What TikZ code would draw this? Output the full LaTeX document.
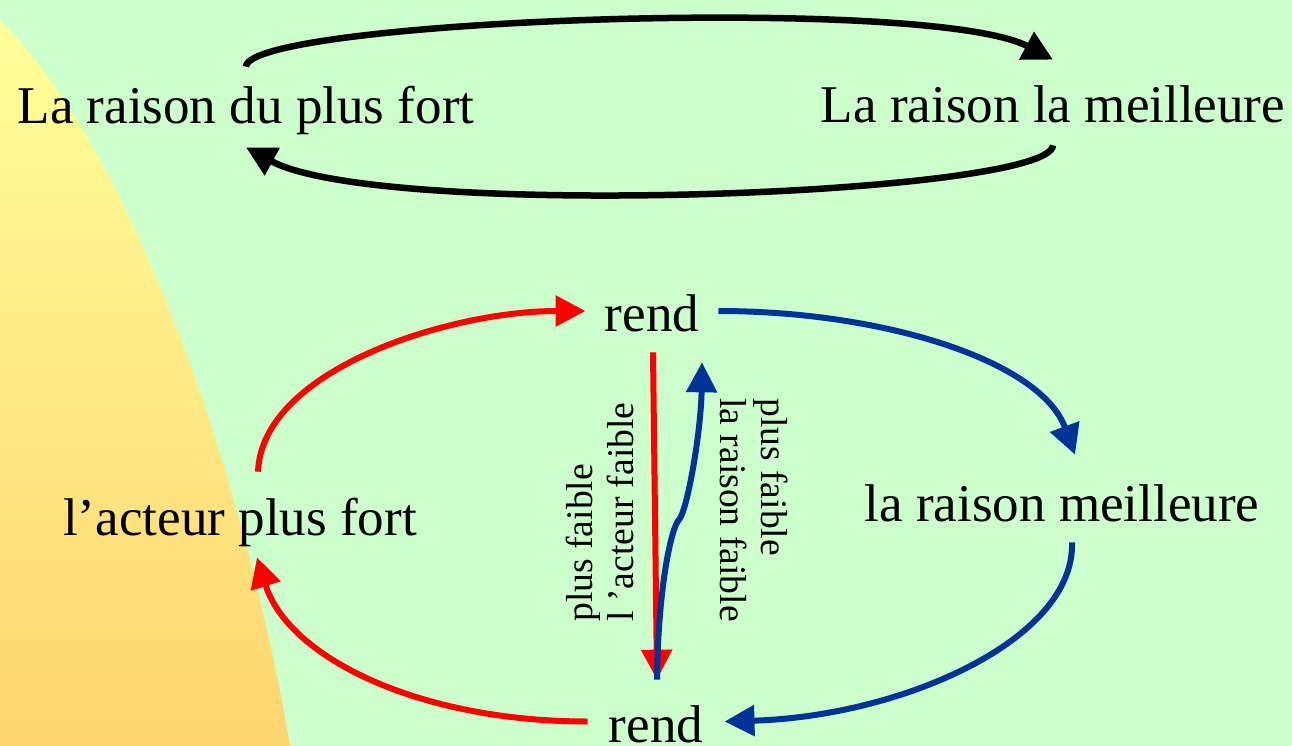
\documentclass[tikz,border=0pt]{standalone}
\usepackage{fontspec}
\setmainfont{Liberation Serif}
\usetikzlibrary{arrows.meta,calc}
\definecolor{bggreen}{RGB}{204,255,204}
\definecolor{ytop}{RGB}{255,255,153}
\definecolor{ybot}{RGB}{255,213,112}
\definecolor{myblue}{RGB}{0,51,153}
\definecolor{myred}{RGB}{255,0,0}
\begin{document}
\begin{tikzpicture}[x=0.02cm,y=-0.02cm,
  big/.style={font=\fontsize{30.2pt}{36pt}\selectfont, inner sep=0pt, anchor=base},
  small/.style={font=\fontsize{21.4pt}{23.5pt}\selectfont, inner sep=0pt, align=left, anchor=west},
  con/.style={line width=0.12cm, -{Triangle[length=0.6cm,width=0.6cm]}},
  blk/.style={con, line width=0.13cm},
]
\useasboundingbox (0,0) rectangle (1292,746);
\fill[bggreen] (0,0) rectangle (1292,746);
\shade[top color=ytop,bottom color=ybot] (0,20) .. controls (140,160) and (248,496) .. (290,746) -- (0,746) -- cycle;

\node[big, text height=1.14cm, text depth=0.46cm] (A) at (246,124) {La raison du plus fort};
\node[big, text height=1.26cm, text depth=0.44cm] (B) at (1053,123) {La raison la meilleure};
\node[big, text height=1.24cm, text depth=0.40cm, inner xsep=0.38cm] (RT) at (652,332) {rend};
\node[big, text height=1.24cm, text depth=0.42cm, inner xsep=0.42cm] (RB) at (656,742) {rend};
\node[big, text height=1.28cm, text depth=0.42cm] (LPF) at (240,536) {l’acteur plus fort};
\node[big, text height=1.32cm, text depth=0.42cm] (LRM) at (1062,521) {la raison meilleure};

\node[small, rotate=90] (L1) at (600,622) {plus faible\\l ’acteur faible};
\node[small, rotate=-90] (L2) at (754,398) {plus faible\\la raison faible};

\draw[blk] (A.north) .. controls +(2,-47) and +(-123,-65) .. (B.north);
\draw[blk] (B.south) .. controls +(-3,50) and +(134,73) .. (A.south);
\draw[con,myred] ($(LPF.north)+(18,0)$) .. controls +(4,-102) and +(-136,0) .. (RT.west);
\draw[con,myblue] (RT.east) .. controls +(162,0) and +(-35,-95) .. ($(LRM.north)+(13,0)$);
\draw[con,myblue] ($(LRM.south)+(10,0)$) .. controls +(3,98) and +(176,-5) .. (RB.east);
\draw[con,myred] (RB.west) .. controls +(-169,0) and +(31,100) .. ($(LPF.south)+(17,0)$);
\draw[con,myred] ($(RT.south)+(1,0)$) -- ($(RB.north)+(1,0)$);
\draw[con,myblue] ($(RB.north)+(1,0)$) .. controls +(1,-90) and +(-8,8) .. ++(22,-160) .. controls +(8,-8) and +(-1,70) .. ($(RT.south)+(50,10)$);
\end{tikzpicture}
\end{document}
